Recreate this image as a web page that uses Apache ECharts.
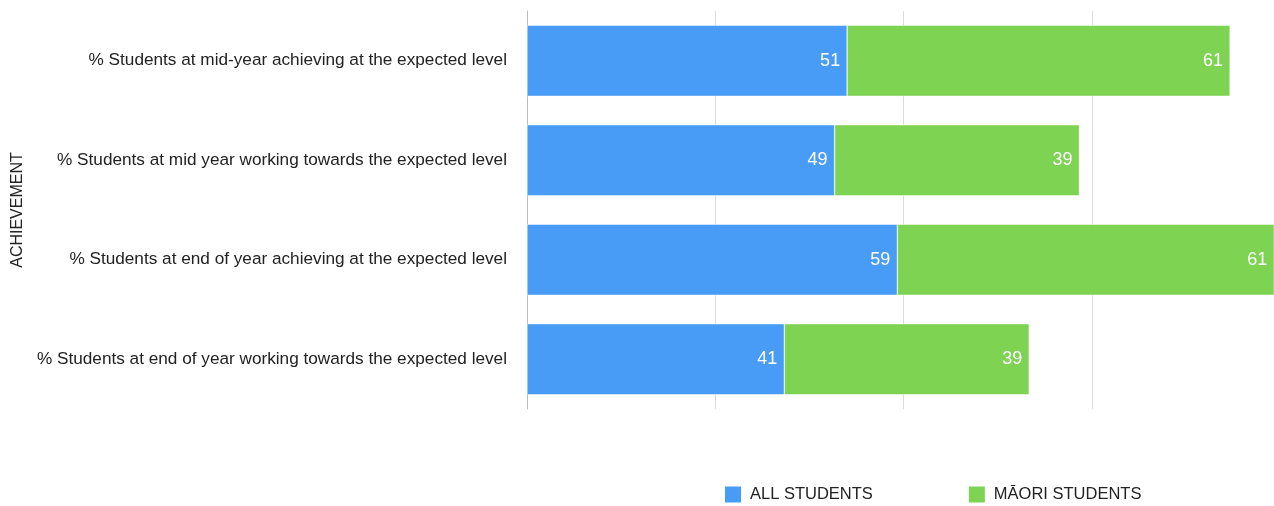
<!DOCTYPE html>
<html>
<head>
<meta charset="utf-8">
<script src="https://cdn.jsdelivr.net/npm/echarts@6/dist/echarts.min.js"></script>
<style>
  html, body { margin: 0; padding: 0; background: #fff; }
  #chart { width: 1274px; height: 506px; }
</style>
</head>
<body>
<div id="chart"></div>
<script>
var categories = [
  '% Students at mid-year achieving at the expected level',
  '% Students at mid year working towards the expected level',
  '% Students at end of year achieving at the expected level',
  '% Students at end of year working towards the expected level'
];
var allStudents = [51, 49, 59, 41];
var maoriStudents = [61, 39, 61, 39];
var seriesNames = ['ALL STUDENTS', 'MĀORI STUDENTS'];

var font = '"Liberation Sans", Arial, Helvetica, sans-serif';

var chart = echarts.init(document.getElementById('chart'));

function barSeries(name, data, color) {
  return {
    name: name,
    type: 'bar',
    stack: 'total',
    data: data,
    barCategoryGap: '28.5%',
    itemStyle: { color: color, borderColor: '#ffffff', borderWidth: 0.5 },
    label: {
      show: true,
      position: 'insideRight',
      distance: 7,
      color: '#ffffff',
      fontFamily: font,
      fontSize: 18
    },
    emphasis: { disabled: true }
  };
}

chart.setOption({
  animation: false,
  backgroundColor: '#ffffff',
  textStyle: { fontFamily: font },
  grid: { left: 527, top: 11, width: 747, height: 398, containLabel: false },
  legend: {
    left: 725,
    top: 486,
    padding: 0,
    itemWidth: 16,
    itemHeight: 16,
    itemGap: 96,
    icon: 'rect',
    itemStyle: { borderWidth: 0 },
    textStyle: { color: '#222', fontSize: 16.5, fontFamily: font, padding: [0, 0, 0, 4] },
    data: seriesNames
  },
  xAxis: {
    type: 'value',
    min: 0,
    max: 119,
    interval: 30,
    axisLine: { show: false },
    axisTick: { show: false },
    axisLabel: { show: false },
    splitLine: { show: true, lineStyle: { color: '#dcdcdc', width: 1 } }
  },
  yAxis: {
    type: 'category',
    inverse: true,
    data: categories,
    name: 'ACHIEVEMENT',
    nameLocation: 'middle',
    nameGap: 501,
    nameRotate: 90,
    nameTextStyle: { color: '#222', fontSize: 16, fontFamily: font },
    axisLine: { show: true, lineStyle: { color: '#bdbdbd', width: 1 } },
    axisTick: { show: false },
    axisLabel: { color: '#222', fontSize: 17.2, fontFamily: font, margin: 20 }
  },
  series: [
    barSeries(seriesNames[0], allStudents, '#489cf5'),
    barSeries(seriesNames[1], maoriStudents, '#7ed352')
  ]
});
</script>
</body>
</html>
